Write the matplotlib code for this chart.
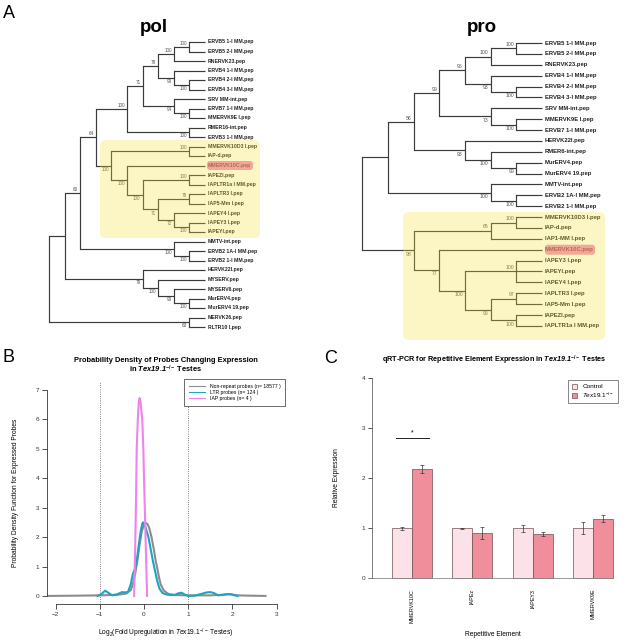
import matplotlib

matplotlib.use("Agg")
import matplotlib.pyplot as plt
from matplotlib.patches import FancyBboxPatch, Patch

plt.rcParams["font.family"] = ["Liberation Sans", "DejaVu Sans"]
plt.rcParams["mathtext.fontset"] = "custom"
plt.rcParams["mathtext.rm"] = "Liberation Sans"
plt.rcParams["mathtext.it"] = "Liberation Sans:italic"
plt.rcParams["mathtext.bf"] = "Liberation Sans:bold"
plt.rcParams["mathtext.bfit"] = "Liberation Sans:bold:italic"

W, H = 626, 641

# --- panel A: bootstrap trees (support, [children]); leaves are strings ---
POL_TREE = (None, [
    (None, [
        (60, [
            (64, [
                (100, [
                    (71, [
                        (79, [
                            (100, [(100, ["ERVB5 1-I MM.pep", "ERVB5 2-I MM.pep"]), "RNERVK23.pep"]),
                            (99, ["ERVB4 1-I MM.pep", (100, ["ERVB4 2-I MM.pep", "ERVB4 3-I MM.pep"])]),
                        ]),
                        (94, ["SRV MM-int.pep", (100, ["ERVB7 1-I MM.pep", "MMERVK9E I.pep"])]),
                    ]),
                    (100, ["RMER16-int.pep", "ERVB3 1-I MM.pep"]),
                ]),
                (100, [
                    (100, ["MMERVK10D3 I.pep", "IAP-d.pep"]),
                    (100, ["MMERVK10C.pep",
                           (100, [(100, ["IAPEZI.pep", "IAPLTR1a I MM.pep"]),
                                  (71, [(79, ["IAPLTR3 I.pep", "IAP5-Mm I.pep"]),
                                        (72, ["IAPEY4 I.pep", (100, ["IAPEY3 I.pep", "IAPEYI.pep"])])])])]),
                ]),
            ]),
            (100, ["MMTV-int.pep", (100, ["ERVB2 1A-I MM.pep", "ERVB2 1-I MM.pep"])]),
        ]),
        (79, ["HERVK22I.pep", (100, ["MYSERV.pep", (99, ["MYSERV6.pep", (100, ["MurERV4.pep", "MurERV4 19.pep"])])])]),
    ]),
    (63, ["MERVK26.pep", "RLTR10 I.pep"]),
])

PRO_TREE = (None, [
    (None, [
        (56, [
            (99, [
                (96, [
                    (100, [(100, ["ERVB5 1-I MM.pep", "ERVB5 2-I MM.pep"]), "RNERVK23.pep"]),
                    (93, ["ERVB4 1-I MM.pep", (100, ["ERVB4 2-I MM.pep", "ERVB4 3-I MM.pep"])]),
                ]),
                (73, ["SRV MM-int.pep", (100, ["MMERVK9E I.pep", "ERVB7 1-I MM.pep"])]),
            ]),
            (93, ["HERVK22I.pep", (100, ["RMER6-int.pep", (99, ["MurERV4.pep", "MurERV4 19.pep"])])]),
        ]),
        (100, ["MMTV-int.pep", (100, ["ERVB2 1A-I MM.pep", "ERVB2 1-I MM.pep"])]),
    ]),
    (98, [
        (65, [(100, ["MMERVK10D3 I.pep", "IAP-d.pep"]), "IAP1-MM I.pep"]),
        (77, ["MMERVK10C.pep",
              (100, [(100, ["IAPEY3 I.pep", "IAPEYI.pep", "IAPEY4 I.pep"]),
                     (96, [(97, ["IAPLTR3 I.pep", "IAP5-Mm I.pep"]),
                           (100, ["IAPEZI.pep", "IAPLTR1a I MM.pep"])])])]),
    ]),
])

HIGHLIGHT_LEAF = "MMERVK10C.pep"

# --- panel B: density curves (log2 fold change, density) ---
gray_x = [-2.2, -1.5, -1.0, -0.6, -0.4, -0.3, -0.25, -0.2, -0.15, -0.1, -0.05, 0.0,
          0.04, 0.08, 0.12, 0.17, 0.22, 0.27, 0.3, 0.34, 0.38, 0.45, 0.55, 0.7, 1.0,
          1.5, 1.8, 1.95, 2.1, 2.4, 2.75]
gray_y = [0.0, 0.01, 0.02, 0.04, 0.08, 0.2, 0.4, 0.75, 1.2, 1.75, 2.2, 2.42,
          2.48, 2.44, 2.3, 2.0, 1.6, 1.15, 0.95, 0.62, 0.38, 0.18, 0.07, 0.03, 0.02,
          0.02, 0.04, 0.06, 0.02, 0.01, 0.0]

ltr_x = [-1.05, -0.95, -0.88, -0.8, -0.72, -0.6, -0.5, -0.42, -0.36, -0.3, -0.25,
         -0.2, -0.16, -0.12, -0.08, -0.04, -0.02, 0.02, 0.06, 0.1, 0.15, 0.2, 0.25,
         0.3, 0.35, 0.42, 0.5, 0.6, 0.7, 0.78, 0.85, 0.92, 1.0, 1.15, 1.3, 1.42, 1.5,
         1.58, 1.68, 1.78, 1.88, 1.96, 2.03, 2.12]
ltr_y = [0.0, 0.08, 0.18, 0.1, 0.02, 0.06, 0.13, 0.12, 0.14, 0.4, 0.76,
         0.93, 1.25, 1.7, 2.15, 2.45, 2.5, 2.4, 2.2, 2.0, 1.6, 1.2, 0.85,
         0.5, 0.25, 0.1, 0.05, 0.03, 0.04, 0.09, 0.11, 0.05, 0.0, 0.01, 0.07, 0.12, 0.13,
         0.1, 0.02, 0.04, 0.06, 0.06, 0.03, 0.0]

iap_x = [-0.225, -0.2, -0.18, -0.165, -0.14, -0.12, -0.1, -0.08, -0.06, -0.04,
         -0.015, 0.0, 0.03, 0.05, 0.07]
iap_y = [0.0, 1.6, 3.3, 5.0, 6.0, 6.55, 6.72, 6.6, 6.3, 6.0,
         5.0, 4.0, 2.3, 1.1, 0.0]

density_labels = ["Non-repeat probes (n= 18577 )", "LTR probes (n= 124 )", "IAP probes (n= 4 )"]

# --- panel C: qRT-PCR ---
elements = ["MMERVK10C", "IAPEz", "IAPEY3", "MMERVK9E"]
control = [1.0, 1.0, 1.0, 1.0]
control_err = [0.03, 0.01, 0.07, 0.12]
tex = [2.18, 0.90, 0.88, 1.19]
tex_err = [0.08, 0.12, 0.04, 0.07]

TREE_COLOR = "#3a3a3a"


def rect(x0, y0, x1, y1):
    return [x0 / W, 1 - y1 / H, (x1 - x0) / W, (y1 - y0) / H]


def height(node):
    if isinstance(node, str):
        return 0
    return 1 + max(height(c) for c in node[1])


def draw_tree(ax, tree, tip_x, step, y0, dy, fs_leaf, fs_boot):
    count = [0]
    spots = {}

    def rec(node, upper):
        if isinstance(node, str):
            y = y0 + count[0] * dy
            count[0] += 1
            ax.text(tip_x + 3, y, node, fontsize=fs_leaf, fontweight="bold",
                    va="center", ha="left", color="#222222", zorder=3)
            spots[node] = y
            return tip_x, y
        support, kids = node
        x = tip_x - height(node) * step
        pts = [rec(k, i == 0) for i, k in enumerate(kids)]
        ys = [p[1] for p in pts]
        for cx, cy in pts:
            ax.plot([x, cx], [cy, cy], color=TREE_COLOR, lw=0.85, solid_capstyle="butt", zorder=2)
        ax.plot([x, x], [min(ys), max(ys)], color=TREE_COLOR, lw=0.85, zorder=2)
        y = (min(ys) + max(ys)) / 2
        if support is not None:
            if upper:
                ax.text(x - 2, y - 1.2, str(support), fontsize=fs_boot, ha="right",
                        va="bottom", color="#555555", zorder=3)
            else:
                ax.text(x - 2, y + 1.2, str(support), fontsize=fs_boot, ha="right",
                        va="top", color="#555555", zorder=3)
        return x, y

    rec(tree, True)
    return spots


fig = plt.figure(figsize=(W / 100, H / 100), dpi=100)
page = fig.add_axes([0, 0, 1, 1])
page.set_xlim(0, W)
page.set_ylim(H, 0)
page.axis("off")

# ---- A ----
page.text(3, 18, "A", fontsize=13, va="baseline")
page.text(154, 28, "pol", fontsize=13.5, fontweight="bold", ha="center", va="center")
page.text(482, 28, "pro", fontsize=13.5, fontweight="bold", ha="center", va="center")

pol_y = draw_tree(page, POL_TREE, 205, 15.6, 42, 9.5, 3.7, 3.3)
pro_y = draw_tree(page, PRO_TREE, 542, 25.7, 43, 10.88, 4.2, 3.7)

for (x0, y0, x1, y1) in [(100, 140, 260, 238), (403, 212, 605, 340)]:
    page.add_patch(FancyBboxPatch((x0, y0), x1 - x0, y1 - y0,
                                  boxstyle="round,pad=0,rounding_size=6",
                                  fc="#f2e43e", ec="none", alpha=0.3, zorder=4))
for (x0, x1, yc, hh) in [(207, 253, pol_y[HIGHLIGHT_LEAF], 9), (545, 595, pro_y[HIGHLIGHT_LEAF], 10)]:
    page.add_patch(FancyBboxPatch((x0, yc - hh / 2), x1 - x0, hh,
                                  boxstyle="round,pad=0,rounding_size=3",
                                  fc="#ee7377", ec="none", alpha=0.6, zorder=5))

# ---- B ----
page.text(3, 362, "B", fontsize=13, va="baseline")
page.text(166, 360, "Probability Density of Probes Changing Expression",
          fontsize=5.4, fontweight="bold", ha="center", va="center")
page.text(166, 369, r"in $\mathbfit{Tex19.1}^{\mathbf{-/-}}$ Testes",
          fontsize=5.4, fontweight="bold", ha="center", va="center")
page.text(16, 493, "Probability Density Function for Expressed Probes",
          fontsize=4.8, rotation=90, ha="center", va="center")
page.text(166, 633, r"Log$_2$(Fold Upregulation in $\mathit{Tex19.1}^{-/-}$ Testes)",
          fontsize=4.8, ha="center", va="center")

axB = fig.add_axes(rect(46.8, 381.6, 285.4, 604.2))
axB.patch.set_alpha(0)
axB.set_xlim(-2.2, 3.2)
axB.set_ylim(-0.28, 7.28)
for s in ["top", "right"]:
    axB.spines[s].set_visible(False)
axB.spines["left"].set_bounds(0, 7)
axB.spines["bottom"].set_bounds(-2, 3)
for s in ["left", "bottom"]:
    axB.spines[s].set_color("#333333")
    axB.spines[s].set_linewidth(0.6)
axB.set_xticks(range(-2, 4))
axB.set_yticks(range(0, 8))
axB.tick_params(labelsize=4.6, length=3.5, width=0.6, colors="#333333", pad=2)
axB.axvline(-1, color="#555555", lw=0.6, ls=":")
axB.axvline(1, color="#555555", lw=0.6, ls=":")
axB.plot(gray_x, gray_y, color="#8c8c8c", lw=1.5, label=density_labels[0])
axB.plot(ltr_x, ltr_y, color="#1fa3c4", lw=1.5, label=density_labels[1])
axB.plot(iap_x, iap_y, color="#ee82ee", lw=1.5, label=density_labels[2])
legB = axB.legend(loc="upper right", bbox_to_anchor=(1.0, 1.012), fontsize=3.7,
                  frameon=True, fancybox=False, edgecolor="#333333", framealpha=1,
                  handlelength=3.2, borderpad=0.9, labelspacing=0.25, handletextpad=0.9,
                  borderaxespad=0)
legB.get_frame().set_linewidth(0.5)
for ln in legB.get_lines():
    ln.set_linewidth(0.8)

# ---- C ----
page.text(324, 363, "C", fontsize=13, va="baseline")
page.text(494, 360, r"qRT-PCR for Repetitive Element Expression in $\mathbfit{Tex19.1}^{\mathbf{-/-}}$ Testes",
          fontsize=5.2, fontweight="bold", ha="center", va="center")
page.text(336, 478, "Relative Expression", fontsize=4.8, rotation=90, ha="center", va="center")
page.text(493, 634, "Repetitive Element", fontsize=4.8, ha="center", va="center")

axC = fig.add_axes(rect(372, 370, 626, 586))
axC.patch.set_alpha(0)
axC.set_xlim(0, 12.65)
axC.set_ylim(-0.16, 4.16)
for s in ["top", "right", "bottom"]:
    axC.spines[s].set_visible(False)
axC.spines["left"].set_bounds(0, 4)
axC.spines["left"].set_color("#666666")
axC.spines["left"].set_linewidth(0.6)
axC.set_yticks(range(0, 5))
axC.tick_params(axis="y", labelsize=4.6, length=3, width=0.6, colors="#333333", pad=2)

ctrl_pos = [1.5 + 3 * i for i in range(len(elements))]
tex_pos = [p + 1 for p in ctrl_pos]
axC.plot([-0.15, 12], [0, 0], color="#888888", lw=0.6, clip_on=False)
axC.bar(ctrl_pos, control, width=1, color="#fde1e8", edgecolor="#6e5050", lw=0.5)
axC.bar(tex_pos, tex, width=1, color="#f08f9b", edgecolor="#6e5050", lw=0.5)
axC.errorbar(ctrl_pos, control, yerr=control_err, fmt="none", ecolor="#333333",
             elinewidth=0.5, capsize=1.3, capthick=0.5)
axC.errorbar(tex_pos, tex, yerr=tex_err, fmt="none", ecolor="#333333",
             elinewidth=0.5, capsize=1.3, capthick=0.5)
axC.set_xticks([p + 0.5 for p in ctrl_pos])
axC.set_xticklabels(elements, rotation=90, fontsize=3.9, va="top", ha="center")
axC.tick_params(axis="x", length=0, pad=2)
axC.plot([1.2, 2.84], [2.8, 2.8], color="#222222", lw=0.7)
axC.text(2.0, 2.9, "*", fontsize=5, ha="center", va="center")

handles = [Patch(fc="#fde1e8", ec="#6e5050", lw=0.5), Patch(fc="#f08f9b", ec="#6e5050", lw=0.5)]
legC = fig.legend(handles, ["Control", r"$\mathit{Tex19.1}^{-/-}$"], loc="upper left",
                  bbox_to_anchor=(568 / W, 1 - 380 / H), fontsize=4.6, frameon=True,
                  fancybox=False, edgecolor="#555555", framealpha=1, handlelength=0.9,
                  handleheight=0.9, borderpad=0.55, labelspacing=0.2, handletextpad=0.8,
                  borderaxespad=0)
legC.get_frame().set_linewidth(0.5)

fig.savefig("out.png", dpi=100)
